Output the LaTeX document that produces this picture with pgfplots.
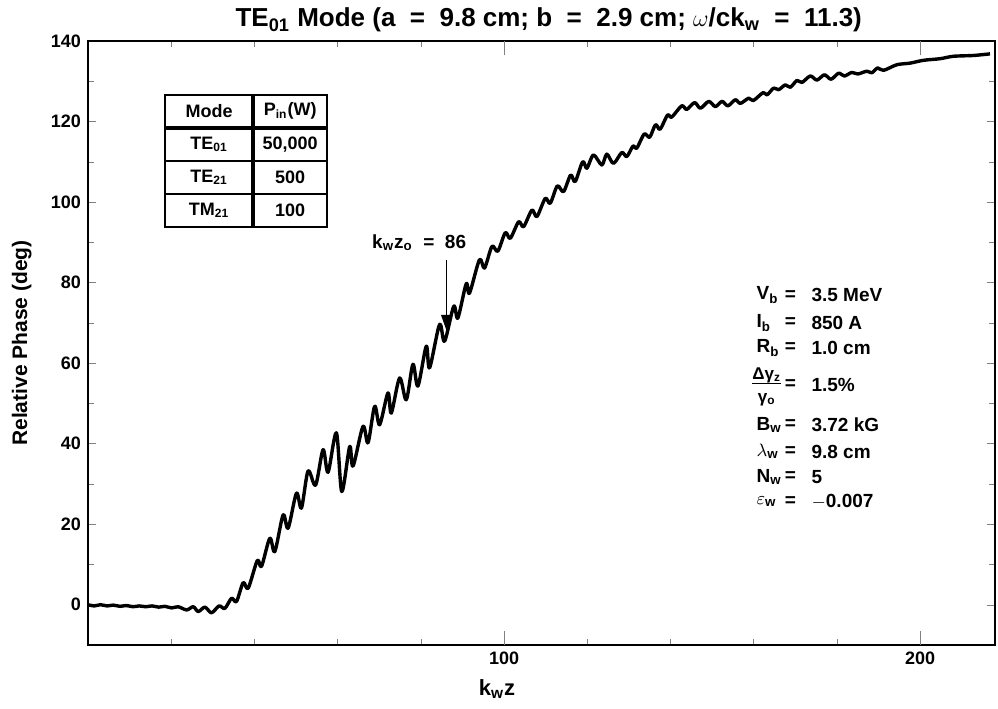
\documentclass[border=0pt]{standalone}
\usepackage{fontspec}
\setmainfont{Liberation Sans}
\usepackage{pgfplots}
\pgfplotsset{compat=1.18}
\usetikzlibrary{arrows.meta}

% one line of the beam parameter list: y, name, value
\newcommand{\param}[3]{%
  \node[anchor=west,font=\fontsize{9.5}{11}\bfseries] at (axis cs:159,#1) {#2};
  \node[font=\fontsize{9.5}{11}\bfseries] at (axis cs:168.8,#1) {=};
  \node[anchor=west,font=\fontsize{9.5}{11}\bfseries] at (axis cs:172.2,#1) {#3};}

\begin{document}
\bfseries
\begin{tikzpicture}
\begin{axis}[
    scale only axis,
    width=453.5pt, height=302pt,
    xmin=0, xmax=218, ymin=-10, ymax=140,
    xtick={100,200},
    minor xtick={20,40,60,80,120,140,160,180},
    ytick={0,20,...,140},
    minor ytick={10,30,...,130},
    tick align=inside,
    major tick length=4pt, minor tick length=3pt,
    extra x ticks={100,200}, extra x tick labels={},
    extra x tick style={major tick length=7pt},
    tick label style={font=\fontsize{9}{10}\bfseries},
    /pgf/number format/assume math mode=true,
    axis line style={line width=0.6pt},
    xlabel={k\textsubscript{w}z},
    ylabel={Relative Phase (deg)},
    xlabel style={at={(axis description cs:0.451,-0.073)}, anchor=center, font=\fontsize{11}{12}\bfseries},
    ylabel style={at={(axis description cs:-0.073,0.5)}, anchor=center, font=\fontsize{10.5}{12}\bfseries},
]
\coordinate (bl) at (rel axis cs:0,0);
\coordinate (tr) at (rel axis cs:1,1);
\coordinate (tt) at (rel axis cs:0.508,1);

\addplot[black, line width=1.7pt, smooth, line join=round] coordinates {
(0,0.0) (1.5,-0.3) (3.0,0.0) (4.6,-0.3) (6.1,-0.1) (7.7,-0.4) (9.2,-0.2)
(10.8,-0.5) (12.3,-0.3) (13.9,-0.5) (15.4,-0.3) (17.0,-0.6) (18.5,-0.4)
(20.1,-0.8) (21.7,-0.5) (23.7,-1.3) (25.3,-0.5) (26.5,-1.7) (28.1,-0.6)
(29.7,-2.0) (31.5,-0.3) (32.9,-0.9) (34.5,1.6) (35.7,0.8) (37.3,5.5)
(38.5,4.1) (40.7,11.0) (41.7,9.5) (43.7,16.5) (44.9,13.2) (46.9,22.3)
(48.1,19.0) (50.1,27.7) (51.3,24.0) (52.9,33.2) (54.7,29.7) (56.5,38.5)
(57.7,32.9) (59.7,42.7) (61.0,28.1) (62.9,39.3) (63.7,34.4) (66.1,44.3)
(67.3,40.2) (68.9,49.3) (70.1,44.7) (72.1,52.6) (72.9,47.6) (74.9,56.3)
(76.5,50.9) (78.1,59.7) (79.3,54.3) (81.3,64.2) (82.1,58.8) (84.5,69.6)
(85.7,65.4) (87.9,74.1) (88.9,71.2) (90.9,79.7) (91.7,77.4) (94.1,85.7)
(95.3,83.6) (97.1,89.0) (98.5,87.8) (100.3,92.4) (101.5,91.0) (103.5,95.1)
(104.7,93.9) (106.7,98.0) (107.9,96.4) (109.9,100.9) (111.1,99.7)
(112.8,104.0) (114.3,102.6) (116.0,106.7) (117.1,105.1) (118.9,110.0)
(119.9,108.4) (121.5,111.7) (123.5,109.2) (124.7,111.9) (126.3,109.6)
(128.3,112.3) (129.5,111.3) (131.0,113.9) (131.9,113.4) (133.7,116.9)
(135.0,116.1) (136.4,119.2) (137.5,118.1) (139.3,121.6) (140.3,121.1)
(142.7,123.9) (143.9,123.0) (145.8,124.7) (147.2,123.3) (149.2,125.0)
(150.8,123.7) (152.4,125.0) (153.8,123.9) (155.6,125.4) (156.8,124.5)
(158.8,125.8) (159.9,125.2) (162.3,127.2) (163.2,126.6) (164.8,128.3)
(166.0,127.9) (167.6,129.1) (168.8,128.5) (170.4,130.2) (171.6,129.7)
(173.6,131.3) (175.2,130.3) (177.0,131.6) (178.6,130.5) (180.4,132.0)
(181.8,131.3) (183.6,132.2) (185.0,131.8) (187.2,132.5) (188.4,132.1)
(189.8,133.3) (191.2,132.7) (194.4,134.1) (197.6,134.5) (200.8,135.2)
(204.8,135.6) (208.0,136.2) (212.8,136.4) (216.8,136.8)
};

% mode / power table
\draw[line width=0.8pt] (axis cs:18.5,93.8) rectangle (axis cs:57.5,126.6);
\draw[line width=2pt] (axis cs:39.7,93.8) -- (axis cs:39.7,126.6);
\draw[line width=2pt] (axis cs:18.5,118.5) -- (axis cs:57.5,118.5);
\draw[line width=0.6pt] (axis cs:18.5,110.2) -- (axis cs:57.5,110.2);
\draw[line width=0.6pt] (axis cs:18.5,102.0) -- (axis cs:57.5,102.0);
\begin{scope}[every node/.style={font=\fontsize{9}{10}\bfseries}]
\node at (axis cs:29.1,122.55) {Mode};
\node at (axis cs:48.6,122.55) {P\textsubscript{in}(W)};
\node at (axis cs:29.1,114.35) {TE\textsubscript{01}};
\node at (axis cs:48.6,114.35) {50,000};
\node at (axis cs:29.1,106.1) {TE\textsubscript{21}};
\node at (axis cs:48.6,106.1) {500};
\node at (axis cs:29.1,97.9) {TM\textsubscript{21}};
\node at (axis cs:48.6,97.9) {100};
\end{scope}

% arrow
\draw[line width=0.6pt, -{Triangle[length=8pt,width=5.5pt]}] (axis cs:86.2,85.5) -- (axis cs:86.2,68.0);
\node[font=\fontsize{9.5}{11}\bfseries] at (axis cs:79.6,89.8) {k\textsubscript{w}z\textsubscript{o} \ = \ 86};

% beam parameters
\param{76.9}{V\textsubscript{b}}{3.5 MeV}
\param{70.0}{I\textsubscript{b}}{850 A}
\param{63.8}{R\textsubscript{b}}{1.0 cm}
\node[anchor=west,font=\fontsize{8.5}{10}\bfseries,inner xsep=0pt] at (axis cs:159.6,54.1)
  {\begin{tabular}{@{}c@{}}Δγ\textsubscript{z}\\[-1pt]\hline\rule{0pt}{9pt}γ\textsubscript{o}\end{tabular}};
\node[font=\fontsize{9.5}{11}\bfseries] at (axis cs:168.8,54.6) {=};
\node[anchor=west,font=\fontsize{9.5}{11}\bfseries] at (axis cs:172.2,54.6) {1.5\%};
\param{44.7}{B\textsubscript{w}}{3.72 kG}
\param{38.0}{$\lambda$\textsubscript{w}}{9.8 cm}
\param{31.8}{N\textsubscript{w}}{5}
\param{25.6}{$\varepsilon$\textsubscript{w}}{$-$0.007}
\end{axis}
\node[anchor=base, font=\fontsize{13}{15}\bfseries] at ([yshift=7pt]tt)
  {TE\textsubscript{01} Mode (a \ = \ 9.8 cm; b \ = \ 2.9 cm; $\omega$/ck\textsubscript{w} \ = \ 11.3)};
\pgfresetboundingbox
\path ([shift={(-44pt,-32pt)}]bl) rectangle ([shift={(1.5pt,20.5pt)}]tr);
\end{tikzpicture}
\end{document}
